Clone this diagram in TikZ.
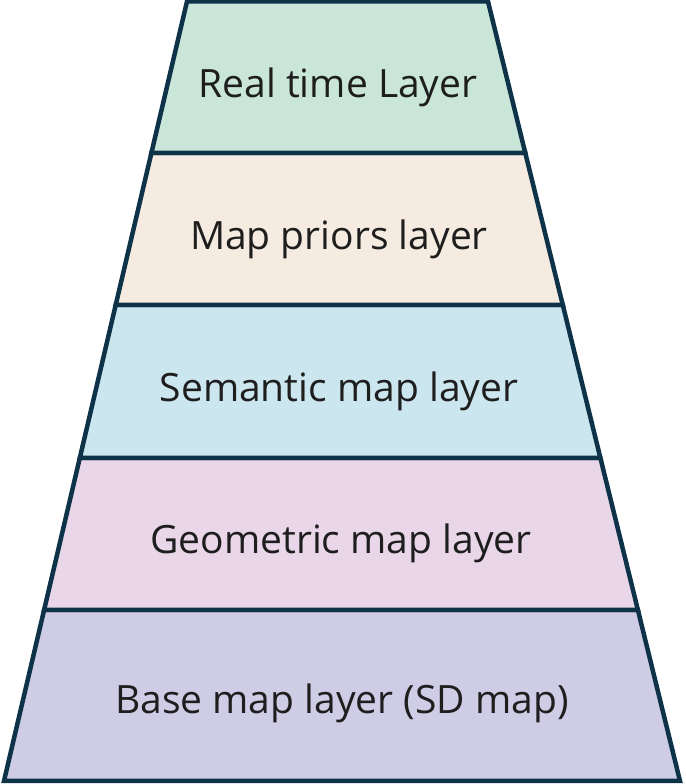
\documentclass[tikz,border=0pt]{standalone}
\usepackage{fontspec}
\setmainfont{Open Sans}
\usepackage{tikz}
\definecolor{layergreen}{HTML}{C9E6D8}
\definecolor{layerpeach}{HTML}{F6EBE1}
\definecolor{layerblue}{HTML}{CCE6EF}
\definecolor{layerpink}{HTML}{E9D7E9}
\definecolor{layerlilac}{HTML}{CFCCE5}
\definecolor{layeredge}{HTML}{0E3248}
\definecolor{layertext}{HTML}{1E1E1E}
\tikzset{
  layer/.style={line width=4.5pt, draw=layeredge, line join=miter},
  layerlabel/.style={text=layertext, font=\fontsize{39}{44}\selectfont, inner sep=0pt}
}
\begin{document}
\begin{tikzpicture}[x=1pt, y=1pt]
  \useasboundingbox (0, 0) rectangle (685, 784);

  \filldraw [layer, fill=layerlilac] (44.1, 174) -- (637.9, 174) -- (680, 3) -- (4, 3) -- cycle;
  \filldraw [layer, fill=layerpink] (79.8, 326) -- (600.4, 326) -- (637.9, 174) -- (44.1, 174) -- cycle;
  \filldraw [layer, fill=layerblue] (115.7, 479) -- (562.8, 479) -- (600.4, 326) -- (79.8, 326) -- cycle;
  \filldraw [layer, fill=layerpeach] (151.4, 631) -- (525.3, 631) -- (562.8, 479) -- (115.7, 479) -- cycle;
  \filldraw [layer, fill=layergreen] (187, 782.5) -- (488, 782.5) -- (525.3, 631) -- (151.4, 631) -- cycle;

  \node [layerlabel] (realtime) at (338, 697) {Real time Layer};
  \node [layerlabel] (priors) at (339, 545) {Map priors layer};
  \node [layerlabel] (semantic) at (339, 393) {Semantic map layer};
  \node [layerlabel] (geometric) at (341, 241) {Geometric map layer};
  \node [layerlabel] (base) at (342, 81) {Base map layer (SD map)};

\end{tikzpicture}
\end{document}
